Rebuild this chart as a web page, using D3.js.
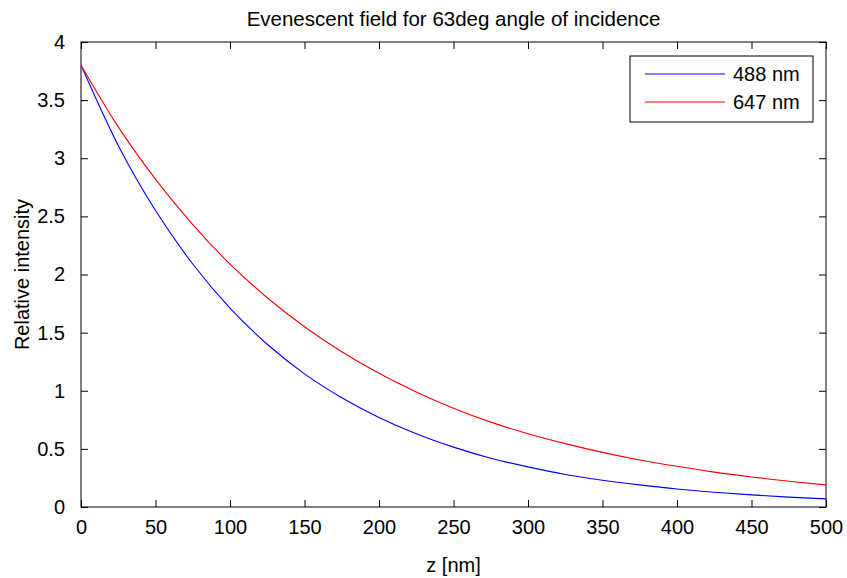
<!DOCTYPE html>
<html>
<head>
<meta charset="utf-8">
<script src="https://cdn.jsdelivr.net/npm/d3@7"></script>
<style>
body { margin: 0; background: #fff; }
text { font-family: "Liberation Sans", Arial, Helvetica, sans-serif; fill: #000; }
</style>
</head>
<body>
<div id="chart"></div>
<script>
var width = 847;
var height = 578;

// z positions in nm (read every 25 nm)
var zValues = [0, 25, 50, 75, 100, 125, 150, 175, 200, 225, 250, 275, 300, 325, 350, 375, 400, 425, 450, 475, 500];
// relative intensity
var blue488 = [3.80, 3.11, 2.55, 2.09, 1.71, 1.40, 1.145, 0.94, 0.77, 0.63, 0.515, 0.42, 0.345, 0.28, 0.23, 0.19, 0.155, 0.127, 0.104, 0.085, 0.07];
var red647 = [3.80, 3.27, 2.82, 2.43, 2.09, 1.80, 1.55, 1.335, 1.15, 0.99, 0.85, 0.73, 0.63, 0.545, 0.47, 0.405, 0.35, 0.30, 0.258, 0.222, 0.19];
var seriesNames = ["488 nm", "647 nm"];
var seriesColors = ["#0000ff", "#ff0000"];
var xTicks = [0, 50, 100, 150, 200, 250, 300, 350, 400, 450, 500];
var yTicks = [0, 0.5, 1, 1.5, 2, 2.5, 3, 3.5, 4];

var margin = {left: 81, right: 21, top: 42, bottom: 71};

var svg = d3.select("#chart").append("svg")
	.attr("width", width)
	.attr("height", height);

var x = d3.scaleLinear().domain([0, 500]).range([margin.left, width - margin.right]);
var y = d3.scaleLinear().domain([0, 4]).range([height - margin.bottom, margin.top]);

var tickLen = 7;

// box
svg.append("rect")
	.attr("x", x(0)).attr("y", y(4))
	.attr("width", x(500) - x(0)).attr("height", y(0) - y(4))
	.attr("fill", "none").attr("stroke", "#000").attr("stroke-width", 1);

// bottom axis (inward ticks) and its mirror on top
var xAxis = svg.append("g").attr("transform", "translate(0," + y(0) + ")")
	.call(d3.axisBottom(x).tickValues(xTicks).tickSize(-tickLen).tickPadding(13).tickFormat(d3.format("d")));
svg.append("g").attr("transform", "translate(0," + y(4) + ")")
	.call(d3.axisTop(x).tickValues(xTicks).tickSize(-tickLen).tickFormat(""));

var yAxis = svg.append("g").attr("transform", "translate(" + x(0) + ",0)")
	.call(d3.axisLeft(y).tickValues(yTicks).tickSize(-tickLen).tickPadding(16).tickFormat(d3.format("")));
svg.append("g").attr("transform", "translate(" + x(500) + ",0)")
	.call(d3.axisRight(y).tickValues(yTicks).tickSize(-tickLen).tickFormat(""));

svg.selectAll(".domain").remove();
svg.selectAll(".tick line").attr("stroke", "#000");
svg.selectAll(".tick text").style("font-size", "20px").attr("fill", "#000");

// curves
var line = d3.line()
	.x(function(d, i){ return x(zValues[i]); })
	.y(function(d){ return y(d); })
	.curve(d3.curveMonotoneX);

[blue488, red647].forEach(function(s, i){
	svg.append("path")
		.attr("d", line(s))
		.attr("fill", "none")
		.attr("stroke", seriesColors[i])
		.attr("stroke-width", 1.1);
});

// title and labels
svg.append("text")
	.attr("x", (x(0) + x(500)) / 2).attr("y", 26)
	.attr("text-anchor", "middle")
	.style("font-size", "20.5px")
	.text("Evenescent field for 63deg angle of incidence");

svg.append("text")
	.attr("x", (x(0) + x(500)) / 2).attr("y", 572)
	.attr("text-anchor", "middle")
	.style("font-size", "20px")
	.text("z [nm]");

svg.append("text")
	.attr("transform", "translate(29," + ((y(0) + y(4)) / 2) + ") rotate(-90)")
	.attr("text-anchor", "middle")
	.style("font-size", "20px")
	.text("Relative intensity");

// legend
var legend = svg.append("g");
legend.append("rect")
	.attr("x", 630).attr("y", 56)
	.attr("width", 183).attr("height", 66)
	.attr("fill", "#fff").attr("stroke", "#000").attr("stroke-width", 1);

seriesNames.forEach(function(name, i){
	var ly = 74 + i * 28;
	legend.append("line")
		.attr("x1", 645).attr("x2", 725)
		.attr("y1", ly).attr("y2", ly)
		.attr("stroke", seriesColors[i]).attr("stroke-width", 1.1);
	legend.append("text")
		.attr("x", 733).attr("y", ly + 7)
		.style("font-size", "20px")
		.text(name);
});
</script>
</body>
</html>
